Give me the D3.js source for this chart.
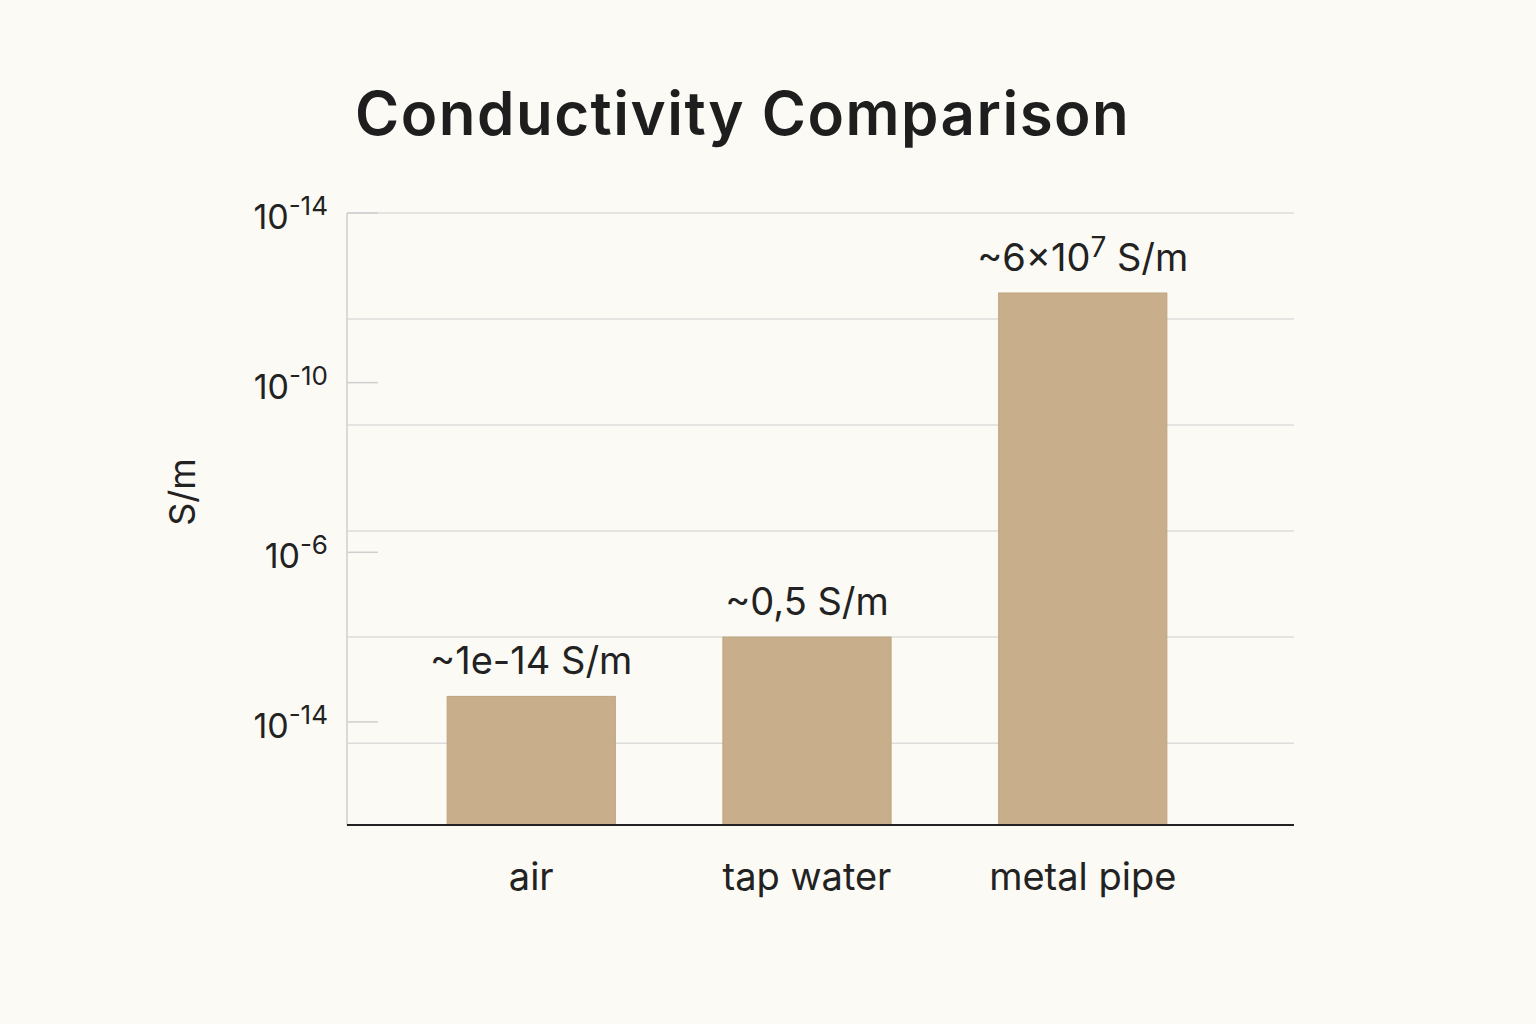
<!DOCTYPE html>
<html><head><meta charset="utf-8">
<script src="https://cdn.jsdelivr.net/npm/d3@7"></script>
<style>body{margin:0;background:#fcfaf5;}svg{display:block;font-family:Inter,"Noto Sans",sans-serif;}</style>
</head><body><svg width="1536" height="1024"></svg>
<script>
const categories = ["air", "tap water", "metal pipe"];
const values = [4e-14, 1e-12, 1.3e-4];
const valueLabels = [["~1e-14 S/m", null], ["~0,5 S/m", null], ["~6\u00d710", "7", " S/m"]];
const tickValues = [1e-14, 1e-10, 1e-6, 1e-2];
const tickExponents = ["-14", "-6", "-10", "-14"];
const gridValues = [Math.pow(10,-14.5), Math.pow(10,-12), Math.pow(10,-9.5), Math.pow(10,-7), Math.pow(10,-4.5), 1e-2];

const svg = d3.select("svg");
svg.append("rect").attr("width",1536).attr("height",1024).attr("fill","#fcfaf5");
const y = d3.scaleLog().domain([Math.pow(10,-16.43), 1e-2]).range([825, 213]);
const x = d3.scaleBand().domain(categories).range([392, 1222]).paddingInner(0.39).paddingOuter(0.2);

svg.append("text").attr("x",355).attr("y",135).attr("font-size",60).attr("font-weight",600)
  .attr("letter-spacing",1.5).attr("fill","#1e1e1e").text("Conductivity Comparison");

svg.selectAll(".grid").data(gridValues).join("line").attr("x1",347).attr("x2",1294)
  .attr("y1",d=>y(d)).attr("y2",d=>y(d)).attr("stroke","#dcdcdc").attr("stroke-width",1.5);
svg.append("line").attr("x1",347).attr("x2",347).attr("y1",213).attr("y2",825).attr("stroke","#cfcfcf").attr("stroke-width",1.5);
svg.selectAll(".tk").data(tickValues).join("line").attr("x1",347).attr("x2",378)
  .attr("y1",d=>y(d)).attr("y2",d=>y(d)).attr("stroke","#cfcfcf").attr("stroke-width",1.5);
const tl = svg.selectAll(".tl").data(tickValues).join("text").attr("x",328).attr("y",d=>y(d)+16)
  .attr("text-anchor","end").attr("font-size",34).attr("fill","#222");
tl.append("tspan").text("10");
tl.append("tspan").attr("dy",-14).attr("font-size",26).text((d,i)=>tickExponents[i]);

svg.append("text").attr("transform","translate(195,492) rotate(-90)").attr("text-anchor","middle")
  .attr("font-size",36).attr("fill","#222").text("S/m");

svg.selectAll(".bar").data(values).join("rect").attr("x",(d,i)=>x(categories[i])).attr("width",x.bandwidth())
  .attr("y",d=>y(d)).attr("height",d=>825-y(d)).attr("fill","#c9ae8b").attr("stroke","#bfa47f");

svg.append("line").attr("x1",347).attr("x2",1294).attr("y1",825).attr("y2",825).attr("stroke","#222").attr("stroke-width",2);

svg.selectAll(".xl").data(categories).join("text").attr("x",d=>x(d)+x.bandwidth()/2).attr("y",890)
  .attr("text-anchor","middle").attr("font-size",38).attr("fill","#222").text(d=>d);

const vl = svg.selectAll(".vl").data(values).join("text").attr("x",(d,i)=>x(categories[i])+x.bandwidth()/2)
  .attr("y",d=>y(d)-22).attr("text-anchor","middle").attr("font-size",38).attr("fill","#222");
vl.each(function(d,i){
  const t=d3.select(this), p=valueLabels[i];
  t.append("tspan").text(p[0]);
  if(p[1]){ t.append("tspan").attr("dy",-14).attr("font-size",28).text(p[1]);
            t.append("tspan").attr("dy",14).text(p[2]); }
});
</script></body></html>
